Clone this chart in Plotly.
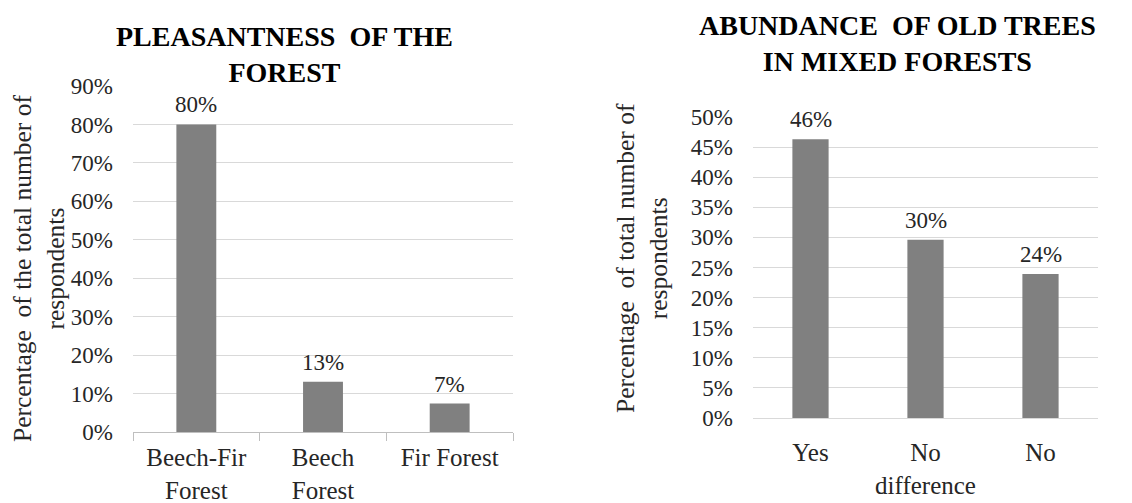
import plotly.graph_objects as go

# left chart: pleasantness of the forest
forest_types = ['Beech-Fir<br>Forest', 'Beech<br>Forest', 'Fir Forest']
pleasantness = [0.80, 0.131, 0.074]

# right chart: abundance of old trees
old_tree_answers = ['Yes', 'No<br>difference', 'No']
old_tree_share = [0.463, 0.296, 0.239]

serif = 'Liberation Serif'
bar_color = '#808080'
grid_color = '#d9d9d9'
text_color = '#262626'
W, H = 1132, 503


def px_x(p):
    # page pixel -> paper coordinate (page body has an 8px margin)
    return (p - 8) / W


def px_y(p):
    return 1 - (p - 8) / H


fig = go.Figure()

fig.add_trace(go.Bar(x=forest_types, y=pleasantness,
                     marker=dict(color=bar_color, line=dict(width=0)),
                     xaxis='x', yaxis='y'))

fig.add_trace(go.Bar(x=old_tree_answers, y=old_tree_share,
                     marker=dict(color=bar_color, line=dict(width=0)),
                     xaxis='x2', yaxis='y2'))

# value labels above the bars
for cats, vals, xr, yr in [(forest_types, pleasantness, 'x', 'y'),
                           (old_tree_answers, old_tree_share, 'x2', 'y2')]:
    for c, v in zip(cats, vals):
        fig.add_annotation(x=c, y=v, xref=xr, yref=yr, text=f'{v:.0%}',
                           showarrow=False, yanchor='bottom', yshift=5,
                           font=dict(family=serif, size=23, color=text_color))

fig.update_layout(
    width=W, height=H,
    margin=dict(l=0, r=0, t=0, b=0, autoexpand=False),
    paper_bgcolor='white', plot_bgcolor='white',
    showlegend=False,
    bargap=0.685,
    font=dict(family=serif, color=text_color),
    xaxis=dict(domain=[px_x(133), px_x(513)], anchor='y', automargin=False,
               showline=True, linecolor='#bfbfbf', linewidth=1,
               ticks='outside', tickson='boundaries', ticklen=8, tickcolor='#bfbfbf',
               ticklabelstandoff=3,
               tickfont=dict(family=serif, size=25, color=text_color)),
    yaxis=dict(domain=[px_y(432), px_y(86)], anchor='x', automargin=False,
               range=[0, 0.9], dtick=0.1, tickformat='.0%',
               showgrid=True, gridcolor=grid_color, gridwidth=1,
               zeroline=False, ticks='', ticklabelstandoff=19,
               tickfont=dict(family=serif, size=23, color=text_color)),
    xaxis2=dict(domain=[px_x(753), px_x(1098)], anchor='y2', automargin=False,
                showline=True, linecolor=grid_color, linewidth=1, ticks='',
                ticklabelstandoff=12,
                tickfont=dict(family=serif, size=25, color=text_color)),
    yaxis2=dict(domain=[px_y(418), px_y(117)], anchor='x2', automargin=False,
                range=[0, 0.5], dtick=0.05, tickformat='.0%',
                showgrid=True, gridcolor=grid_color, gridwidth=1,
                zeroline=False, ticks='', ticklabelstandoff=19,
                tickfont=dict(family=serif, size=23, color=text_color)),
)

fig.add_annotation(text='<b>PLEASANTNESS  OF THE<br>FOREST</b>',
                   xref='paper', yref='paper', x=px_x(284), y=px_y(55),
                   xanchor='center', yanchor='middle',
                   showarrow=False, font=dict(family=serif, size=28, color='black'),
                   align='center')
fig.add_annotation(text='<b>ABUNDANCE  OF OLD TREES<br>IN MIXED FORESTS</b>',
                   xref='paper', yref='paper', x=px_x(897), y=px_y(43),
                   xanchor='center', yanchor='middle',
                   showarrow=False, font=dict(family=serif, size=28, color='black'),
                   align='center')

fig.add_annotation(text='Percentage  of the total number of<br>respondents',
                   xref='paper', yref='paper', x=px_x(39), y=px_y(269),
                   xanchor='center', yanchor='middle',
                   textangle=-90, showarrow=False, align='center',
                   font=dict(family=serif, size=25.5, color=text_color))
fig.add_annotation(text='Percentage  of total number of<br>respondents',
                   xref='paper', yref='paper', x=px_x(642), y=px_y(258),
                   xanchor='center', yanchor='middle',
                   textangle=-90, showarrow=False, align='center',
                   font=dict(family=serif, size=25.5, color=text_color))

fig.write_html('out.html')
